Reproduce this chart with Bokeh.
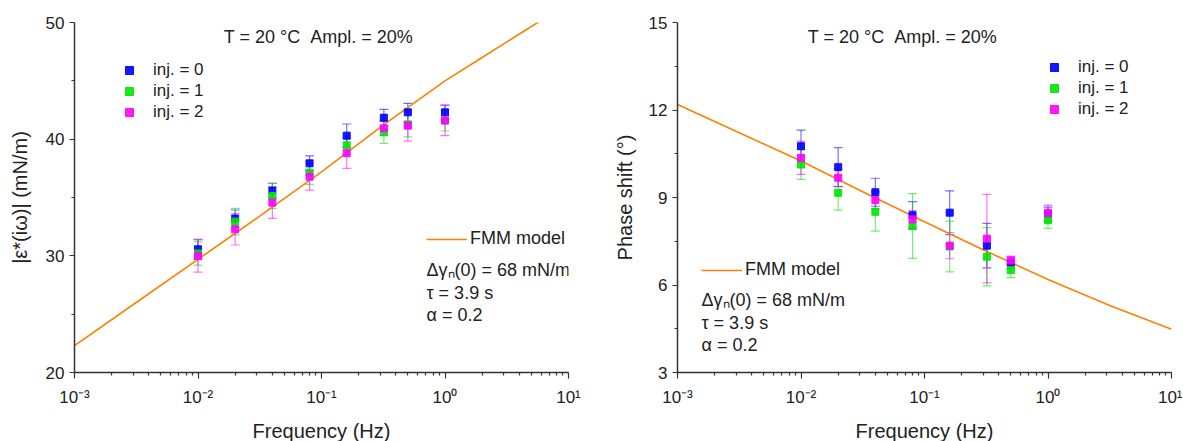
from bokeh.plotting import figure
from bokeh.layouts import row
from bokeh.models import (ColumnDataSource, Whisker, TeeHead, Range1d, FixedTicker,
                          CustomJSTickFormatter, Legend, LegendItem, Label)
from bokeh.embed import file_html
from bokeh.resources import INLINE

# ---------------- data ----------------
freq = [0.01, 0.02, 0.04, 0.08, 0.16, 0.32, 0.5, 1.0]

mod_inj0 = [30.56, 33.20, 35.59, 37.93, 40.30, 41.84, 42.30, 42.30]
mod_inj0_err = [0.86, 0.73, 0.63, 0.63, 1.00, 0.72, 0.77, 0.63]
mod_inj1 = [30.20, 32.93, 35.13, 37.13, 39.47, 40.59, 41.25, 41.60]
mod_inj1_err = [1.00, 1.14, 1.09, 1.00, 0.80, 0.95, 1.05, 0.90]
mod_inj2 = [29.99, 32.27, 34.56, 36.78, 38.80, 40.93, 41.16, 41.60]
mod_inj2_err = [1.38, 1.34, 1.35, 1.14, 1.30, 0.60, 1.32, 1.30]

phase_inj0 = [10.76, 10.04, 9.18, 8.39, 8.48, 7.35, 6.76, 8.42]
phase_inj0_err = [0.55, 0.67, 0.48, 0.47, 0.75, 0.76, 0.20, 0.25]
phase_inj1 = [10.13, 9.16, 8.51, 8.02, 7.32, 6.97, 6.51, 8.22]
phase_inj1_err = [0.51, 0.59, 0.66, 1.11, 0.87, 1.00, 0.26, 0.28]
phase_inj2 = [10.36, 9.68, 8.91, 8.25, 7.35, 7.59, 6.84, 8.48]
phase_inj2_err = [0.57, 0.30, 0.30, 0.30, 0.45, 1.52, 0.15, 0.25]

model_freq_mod = [0.001, 0.00316, 0.01, 0.0316, 0.1, 0.316, 1.0, 2.0, 5.62, 10.0]
model_mod = [22.3, 26.0, 29.7, 33.4, 37.2, 41.2, 45.0, 47.0, 50.0, 51.6]

model_freq_phase = [0.001, 0.00316, 0.01, 0.0316, 0.1, 0.316, 1.0, 3.16, 10.0]
model_phase = [12.19, 11.22, 10.25, 9.20, 8.17, 7.16, 6.19, 5.30, 4.48]

series_labels = ["inj. = 0", "inj. = 1", "inj. = 2"]
series_colors = ["#0000ff", "#00e600", "#ff00ff"]

x_tick_values = [0.001, 0.01, 0.1, 1.0, 10.0]
x_tick_labels = ["10\u207b\u00b3", "10\u207b\u00b2", "10\u207b\u00b9", "10\u2070", "10\u00b9"]
mod_ticks = [20, 30, 40, 50]
mod_minor = [25, 35, 45]
phase_ticks = [3, 6, 9, 12, 15]
phase_minor = [4.5, 7.5, 10.5, 13.5]

title_text = "T = 20 \u00b0C \u00a0Ampl. = 20%"
model_label = "FMM model"
param_texts = ["\u0394\u03b3\u2099(0) = 68 mN/m", "\u03c4 = 3.9 s", "\u03b1 = 0.2"]

FONT = "Liberation Sans"
TXT = "#222222"


def make_plot(ys, errs, model_x, model_y, y_range, yticks, yminor, ylabel, ylabel_standoff,
              min_left, min_right, title_x, leg_loc, fmm_loc, param_x, param_ys):
    p = figure(x_axis_type="log", x_range=Range1d(0.001, 10.0), y_range=Range1d(*y_range),
               frame_width=494, frame_height=350,
               min_border_left=min_left, min_border_right=min_right,
               min_border_top=22, min_border_bottom=68,
               output_backend="svg", toolbar_location=None)
    p.outline_line_color = None
    p.xgrid.visible = False
    p.ygrid.visible = False
    p.background_fill_color = "white"

    minor_x = [m * 10.0 ** e for e in range(-3, 1) for m in range(2, 10)]
    p.xaxis.ticker = FixedTicker(ticks=x_tick_values, minor_ticks=minor_x)
    p.xaxis.formatter = CustomJSTickFormatter(args=dict(vals=x_tick_values, labs=x_tick_labels), code="""
        let best = 0, bd = Infinity;
        for (let i = 0; i < vals.length; i++) {
            const d = Math.abs(Math.log10(tick) - Math.log10(vals[i]));
            if (d < bd) { bd = d; best = i; }
        }
        return labs[best];
    """)
    p.yaxis.ticker = FixedTicker(ticks=yticks, minor_ticks=yminor)

    for ax in (p.xaxis[0], p.yaxis[0]):
        ax.axis_line_color = "#333333"
        ax.axis_line_width = 1.5
        ax.major_tick_line_color = "#333333"
        ax.minor_tick_line_color = "#333333"
        ax.major_tick_line_width = 1.2
        ax.minor_tick_line_width = 1.2
        ax.major_tick_in = 0
        ax.minor_tick_in = 0
        ax.minor_tick_out = 3
        ax.major_label_text_font = FONT
        ax.major_label_text_font_size = "17px"
        ax.major_label_text_color = TXT
        ax.axis_label_text_font = FONT
        ax.axis_label_text_font_size = "20px"
        ax.axis_label_text_font_style = "normal"
        ax.axis_label_text_color = TXT
    p.xaxis.major_tick_out = 6
    p.yaxis.major_tick_out = 5
    p.xaxis.major_label_standoff = 9
    p.yaxis.major_label_standoff = 5
    p.xaxis.axis_label = "Frequency (Hz)"
    p.xaxis.axis_label_standoff = 10
    p.yaxis.axis_label = ylabel
    p.yaxis.axis_label_standoff = ylabel_standoff

    # model line
    model_r = p.line(model_x, model_y, line_color="#ff8000", line_width=1.6)

    # data with error bars
    scat = []
    for y, e, c in zip(ys, errs, series_colors):
        src = ColumnDataSource(dict(x=freq, y=y,
                                    lo=[a - b for a, b in zip(y, e)],
                                    hi=[a + b for a, b in zip(y, e)]))
        w = Whisker(source=src, base="x", lower="lo", upper="hi", dimension="height",
                    line_color=c, line_alpha=0.55, line_width=1.2,
                    upper_head=TeeHead(size=9, line_color=c, line_alpha=0.55, line_width=1.2),
                    lower_head=TeeHead(size=9, line_color=c, line_alpha=0.55, line_width=1.2))
        p.add_layout(w)
        r = p.scatter("x", "y", source=src, marker="square", size=7,
                      fill_color=c, line_color=c, fill_alpha=0.9, line_alpha=0.9)
        scat.append(r)

    leg = Legend(items=[LegendItem(label=l, renderers=[r]) for l, r in zip(series_labels, scat)],
                 location=leg_loc, padding=0, margin=0, spacing=1,
                 glyph_width=20, glyph_height=20, label_height=20, label_standoff=14,
                 label_text_font=FONT, label_text_font_size="17px", label_text_color=TXT,
                 background_fill_alpha=0, border_line_alpha=0)
    p.add_layout(leg)

    leg2 = Legend(items=[LegendItem(label=model_label, renderers=[model_r])],
                  location=fmm_loc, padding=0, margin=0, spacing=0,
                  glyph_width=41, glyph_height=20, label_height=20, label_standoff=3,
                  label_text_font=FONT, label_text_font_size="18px", label_text_color=TXT,
                  background_fill_alpha=0, border_line_alpha=0)
    p.add_layout(leg2)

    p.add_layout(Label(x=title_x, y=335.5, x_units="screen", y_units="screen", text=title_text,
                       text_align="center", text_baseline="alphabetic",
                       text_font=FONT, text_font_size="18px", text_color=TXT))
    for t, yy in zip(param_texts, param_ys):
        p.add_layout(Label(x=param_x, y=yy, x_units="screen", y_units="screen", text=t,
                           text_align="left", text_baseline="alphabetic",
                           text_font=FONT, text_font_size="18px", text_color=TXT))
    return p


p1 = make_plot([mod_inj0, mod_inj1, mod_inj2], [mod_inj0_err, mod_inj1_err, mod_inj2_err],
               model_freq_mod, model_mod, (20, 50), mod_ticks, mod_minor,
               "|\u03b5*(i\u03c9)| (mN/m)", 12, 74, 15, 244, (45, 250), (352, 123), 352,
               [102.5, 79.5, 57.5])
p2 = make_plot([phase_inj0, phase_inj1, phase_inj2], [phase_inj0_err, phase_inj1_err, phase_inj2_err],
               model_freq_phase, model_phase, (3, 15), phase_ticks, phase_minor,
               "Phase shift (\u00b0)", 10, 94, 11, 225, (367, 253), (24, 92), 24,
               [73, 50, 28])

layout = row(p1, p2)
open("out.html", "w").write(file_html(layout, INLINE))
